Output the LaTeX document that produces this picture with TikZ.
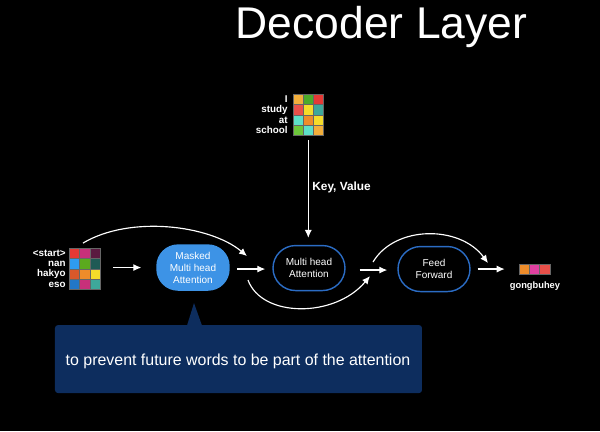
\documentclass[tikz,border=0pt]{standalone}
\usepackage{fontspec}
\setmainfont{Liberation Sans}
\usepackage{xcolor}
\usetikzlibrary{arrows.meta}
\definecolor{cellRed}{HTML}{E53935}
\definecolor{cellPink}{HTML}{C8307A}
\definecolor{cellPlum}{HTML}{5A1A40}
\definecolor{cellBlue}{HTML}{2E9BF0}
\definecolor{cellGreen}{HTML}{5BAA1E}
\definecolor{cellDarkTeal}{HTML}{1F5A55}
\definecolor{cellRust}{HTML}{D9582A}
\definecolor{cellOrange}{HTML}{EE8C2A}
\definecolor{cellYellow}{HTML}{F5DC2A}
\definecolor{cellDeepBlue}{HTML}{2277C8}
\definecolor{cellTeal}{HTML}{3EA89A}
\definecolor{cellAmber}{HTML}{F2AE3B}
\definecolor{cellLeaf}{HTML}{4CAA2A}
\definecolor{cellSalmon}{HTML}{E9504A}
\definecolor{cellAqua}{HTML}{5DE0C8}
\definecolor{cellLime}{HTML}{6CC63A}
\definecolor{cellMagenta}{HTML}{E040A0}
\definecolor{maskBlue}{HTML}{3D93E6}
\definecolor{rimBlue}{HTML}{2B6CC4}
\definecolor{noteNavy}{HTML}{0D2D5E}

\begin{document}
\begin{tikzpicture}[x=0.02cm, y=-0.02cm,
	arr/.style={draw=white, line width=0.65pt, -{Latex[length=4.5pt,width=4pt]}},
	cell/.style={draw=black!60, line width=0.3pt},
	lbl/.style={text=white, font=\fontsize{5.6}{6}\selectfont\bfseries, anchor=east, inner sep=0},
	layer/.style={draw=rimBlue, line width=0.8pt, fill=black, text=white, align=center,
		minimum width=1.44cm, minimum height=0.9cm, rounded corners=0.45cm, inner sep=0,
		font=\fontsize{5.7}{6.8}\selectfont}]
	\fill[black] (0,0) rectangle (600,431);
	\node[text=white, font=\fontsize{25.3}{28}\selectfont, anchor=base] (title) at (381.5,38) {Decoder Layer};
	% source words
	\node[minimum width=0.62cm, minimum height=0.832cm, inner sep=0] (src) at (84.6,268.8) {};
	\foreach \ca/\cb/\cc [count=\r from 0] in {cellRed/cellPink/cellPlum, cellBlue/cellGreen/cellDarkTeal,
		cellRust/cellOrange/cellYellow, cellDeepBlue/cellPink/cellTeal}
		\foreach \c [count=\k from 0] in {\ca,\cb,\cc}
			\filldraw[cell, fill=\c] (69+\k*10.4, 248+\r*10.4) rectangle +(10.4,10.4);
	\foreach \w [count=\r from 0] in {<start>, nan, hakyo, eso}
		\node[lbl] (src\r) at (66, 253.2+\r*10.4) {\w};
	% encoder words
	\node[minimum width=0.6cm, minimum height=0.832cm, inner sep=0] (tgt) at (308.3,114.8) {};
	\foreach \ca/\cb/\cc [count=\r from 0] in {cellAmber/cellLeaf/cellRed, cellSalmon/cellYellow/cellTeal,
		cellAqua/cellOrange/cellYellow, cellLime/cellAqua/cellAmber}
		\foreach \c [count=\k from 0] in {\ca,\cb,\cc}
			\filldraw[cell, fill=\c] (293.3+\k*10, 94+\r*10.4) rectangle +(10,10.4);
	\foreach \w [count=\r from 0] in {I, study, at, school}
		\node[lbl] (tgt\r) at (288, 99.2+\r*10.4) {\w};
	% layers
	\node[layer, draw=maskBlue, fill=maskBlue, rounded corners=0.42cm] (masked) at (193,267.5) {Masked\\Multi head\\Attention};
	\node[layer] (mha) at (309,268) {Multi head\\Attention};
	\node[layer] (ff) at (434,269) {Feed\\Forward};
	% output
	\node[minimum width=0.62cm, minimum height=0.2cm, inner sep=0] (out) at (534.5,269) {};
	\foreach \c [count=\k from 0] in {cellOrange, cellMagenta, cellSalmon}
		\filldraw[cell, fill=\c] (519+\k*10.3, 264) rectangle +(10.3,10);
	\node[lbl, anchor=center, font=\fontsize{5.3}{6}\selectfont\bfseries] (word) at (535,286) {gongbuhey};
	% connectors
	\draw[arr, shorten <=0.26cm, shorten >=0.3cm] (src.east |- masked) -- (masked);
	\draw[arr, shorten <=0.15cm, shorten >=0.14cm] (masked.east |- 0,269) -- (mha.west |- 0,269);
	\draw[arr, shorten <=0.28cm, shorten >=0.2cm] (mha.east |- 0,270) -- (ff.west |- 0,270);
	\draw[arr, shorten <=0.14cm, shorten >=0.28cm] (ff.east |- out) -- (out.west);
	\draw[arr, shorten <=0.08cm, shorten >=0.14cm] (tgt.south) -- (tgt.south |- mha.north);
	\node[text=white, font=\fontsize{6.75}{8}\selectfont\bfseries, anchor=west, inner sep=0] (kv) at (312,187) {Key, Value};
	\coordinate (skipA) at (83,243);
	\coordinate (skipAend) at (247,256);
	\coordinate (skipB) at (248,280);
	\coordinate (skipBend) at (370,276);
	\coordinate (skipC) at (373,262);
	\coordinate (skipCend) at (488,263);
	\draw[arr] (skipA) .. controls (130,215) and (210,225) .. (skipAend);
	\draw[arr] (skipB) .. controls (262,318) and (335,318) .. (skipBend);
	\draw[arr] (skipC) .. controls (395,225) and (460,225) .. (skipCend);
	% note
	\fill[noteNavy, rounded corners=0.06cm] (55,325) rectangle (422,393);
	\fill[noteNavy] (187,325.5) -- (194,303) -- (202,325.5) -- cycle;
	\node[text=white, font=\fontsize{9.07}{11}\selectfont] (note) at (238,361) {to prevent future words to be part of the attention};
\end{tikzpicture}
\end{document}
